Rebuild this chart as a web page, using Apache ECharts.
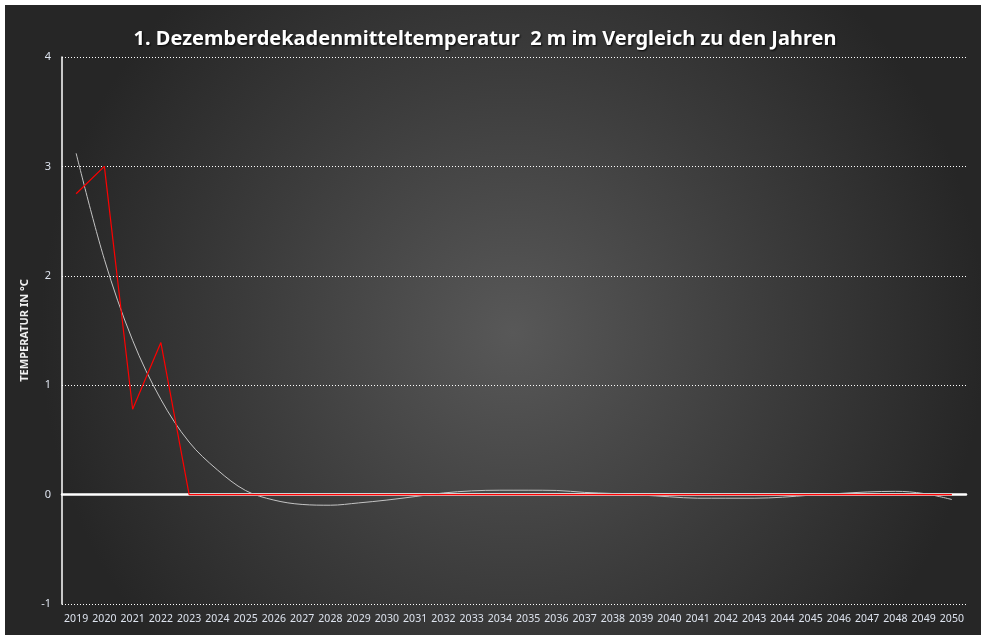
<!DOCTYPE html>
<html>
<head>
<meta charset="utf-8">
<script src="https://cdn.jsdelivr.net/npm/echarts@6/dist/echarts.min.js"></script>
<style>
html,body{margin:0;padding:0;background:#ffffff;}
#chart{width:987px;height:641px;}
</style>
</head>
<body>
<div id="chart"></div>
<script>
const years = ['2019','2020','2021','2022','2023','2024','2025','2026','2027','2028','2029','2030','2031','2032','2033','2034','2035','2036','2037','2038','2039','2040','2041','2042','2043','2044','2045','2046','2047','2048','2049','2050'];
const temperature = [2.75, 3.0, 0.78, 1.39, 0, 0, 0, 0, 0, 0, 0, 0, 0, 0, 0, 0, 0, 0, 0, 0, 0, 0, 0, 0, 0, 0, 0, 0, 0, 0, 0, 0];
const trend = [3.12, 2.15, 1.41, 0.87, 0.48, 0.226, 0.037, -0.05, -0.09, -0.097, -0.076, -0.05, -0.018, 0.015, 0.034, 0.04, 0.04, 0.038, 0.02, 0.01, -0.004, -0.02, -0.033, -0.033, -0.033, -0.024, -0.005, 0.01, 0.024, 0.03, 0.01, -0.045];
const yTicks = [-1, 0, 1, 2, 3, 4];

const chart = echarts.init(document.getElementById('chart'));
chart.setOption({
  animation: false,
  backgroundColor: '#ffffff',
  graphic: [{
    type: 'rect',
    z: -10,
    silent: true,
    shape: {x: 5, y: 5, width: 976, height: 630},
    style: {
      fill: {
        type: 'radial', x: 0.52, y: 0.52, r: 0.75,
        colorStops: [
          {offset: 0, color: '#585858'},
          {offset: 0.55, color: '#3c3c3c'},
          {offset: 1, color: '#262626'}
        ]
      }
    }
  }],
  title: {
    text: '1. Dezemberdekadenmitteltemperatur  2 m im Vergleich zu den Jahren',
    left: 480,
    textAlign: 'center',
    top: 24,
    textStyle: {
      color: '#ffffff',
      fontFamily: 'Noto Sans',
      fontWeight: 'bold',
      fontSize: 20,
      textShadowColor: 'rgba(0,0,0,0.9)',
      textShadowBlur: 2,
      textShadowOffsetX: 1,
      textShadowOffsetY: 1
    }
  },
  grid: {left: 62, right: 21, top: 57, bottom: 37},
  xAxis: {
    type: 'category',
    data: years,
    boundaryGap: true,
    axisLine: {show: true, onZero: true, lineStyle: {color: '#ffffff', width: 2.5}},
    axisTick: {show: false},
    axisLabel: {color: '#dde3ee', fontFamily: 'Noto Sans', fontSize: 10.5, margin: 10, interval: 0}
  },
  yAxis: {
    type: 'value',
    min: yTicks[0],
    max: yTicks[yTicks.length - 1],
    interval: 1,
    name: 'TEMPERATUR IN °C',
    nameLocation: 'middle',
    nameGap: 16,
    nameRotate: 90,
    nameTextStyle: {color: '#f0f0f0', fontFamily: 'Noto Sans', fontWeight: 'bold', fontSize: 11},
    axisLine: {show: true, onZero: false, lineStyle: {color: '#ffffff', width: 1.5}},
    axisTick: {show: false},
    axisLabel: {color: '#dde3ee', fontFamily: 'Noto Sans', fontSize: 11, margin: 11},
    splitLine: {show: true, lineStyle: {color: '#ffffff', type: [1, 2], width: 1}}
  },
  series: [
    {
      type: 'line',
      name: 'Trend',
      data: trend,
      smooth: 0.35,
      symbol: 'none',
      lineStyle: {color: '#c4c4c4', width: 1},
      z: 2
    },
    {
      type: 'line',
      name: 'Temperatur',
      data: temperature,
      symbol: 'none',
      lineStyle: {color: '#ff0000', width: 1.2},
      z: 3
    }
  ]
});
</script>
</body>
</html>
